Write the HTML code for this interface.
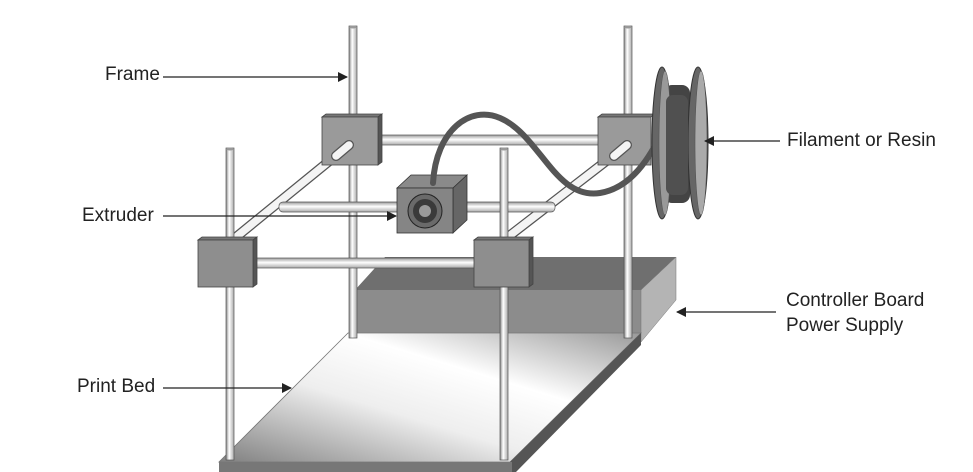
<!DOCTYPE html>
<html><head><style>
html,body{margin:0;padding:0;background:#fff;}
svg{display:block;}
text{font-family:"Liberation Sans",sans-serif;font-size:19px;fill:#222;}
</style></head><body>
<svg width="973" height="472" viewBox="0 0 973 472" xmlns="http://www.w3.org/2000/svg">
<defs>
<linearGradient id="rod" x1="0" x2="1" y1="0" y2="0">
<stop offset="0" stop-color="#888"/><stop offset="0.4" stop-color="#fff"/><stop offset="1" stop-color="#aaa"/></linearGradient>
<linearGradient id="rodh" x1="0" x2="0" y1="0" y2="1">
<stop offset="0" stop-color="#999"/><stop offset="0.45" stop-color="#fff"/><stop offset="1" stop-color="#aaa"/></linearGradient>
<linearGradient id="bed" x1="0" y1="1" x2="1" y2="0">
<stop offset="0" stop-color="#808080"/><stop offset="0.4" stop-color="#eee"/><stop offset="0.65" stop-color="#fff"/><stop offset="1" stop-color="#999"/></linearGradient>
<marker id="ah" markerWidth="10" markerHeight="10" refX="9" refY="5" orient="auto" markerUnits="userSpaceOnUse">
<path d="M0,0 L10,5 L0,10 z" fill="#222"/></marker>
</defs>

<!-- controller box -->
<polygon points="355,290 385,257 676,257 641,290" fill="#6f6f6f"/>
<rect x="355" y="290" width="286" height="52" fill="#8c8c8c"/>
<polygon points="641,290 676,257 676,300 641,342" fill="#b4b4b4" stroke="#777" stroke-width="0.5"/>

<!-- bed -->
<polygon points="348,333 641,333 510,462 219,462" fill="url(#bed)" stroke="#777" stroke-width="0.8"/>
<polygon points="510,462 641,333 641,345 516,472 510,472" fill="#555"/>
<rect x="219" y="462" width="293" height="10" fill="#777"/>

<!-- back rods -->
<rect x="349" y="26" width="8" height="312" fill="url(#rod)" stroke="#555" stroke-width="0.7"/>
<ellipse cx="353" cy="27" rx="4" ry="1.5" fill="#999"/>
<rect x="624" y="26" width="8" height="312" fill="url(#rod)" stroke="#555" stroke-width="0.7"/>
<ellipse cx="628" cy="27" rx="4" ry="1.5" fill="#999"/>

<!-- back horizontal rod -->
<rect x="376" y="135" width="224" height="10" fill="url(#rodh)" stroke="#555" stroke-width="0.7"/>

<!-- diagonal rods -->
<line x1="349" y1="145" x2="230" y2="242" stroke="#555" stroke-width="10" stroke-linecap="round"/>
<line x1="349" y1="145" x2="230" y2="242" stroke="#f4f4f4" stroke-width="7.5" stroke-linecap="round"/>
<line x1="627" y1="145" x2="504" y2="240" stroke="#555" stroke-width="10" stroke-linecap="round"/>
<line x1="627" y1="145" x2="504" y2="240" stroke="#f4f4f4" stroke-width="7.5" stroke-linecap="round"/>

<!-- extruder rail -->
<rect x="279" y="202" width="276" height="10" rx="4" fill="url(#rodh)" stroke="#555" stroke-width="0.7"/>

<!-- back blocks -->
<g stroke="#444" stroke-width="0.8">
<polygon points="322,117 326,114 382,114 378,117" fill="#777"/>
<polygon points="378,117 382,114 382,162 378,165" fill="#555"/>
<rect x="322" y="117" width="56" height="48" fill="#9a9a9a"/>
<polygon points="598,117 602,114 655,114 651,117" fill="#777"/>
<rect x="598" y="117" width="53" height="48" fill="#9a9a9a"/>
</g>
<line x1="349" y1="145" x2="336" y2="156" stroke="#555" stroke-width="10" stroke-linecap="round"/>
<line x1="349" y1="145" x2="336" y2="156" stroke="#f4f4f4" stroke-width="7.5" stroke-linecap="round"/>
<line x1="627" y1="145" x2="614" y2="156" stroke="#555" stroke-width="10" stroke-linecap="round"/>
<line x1="627" y1="145" x2="614" y2="156" stroke="#f4f4f4" stroke-width="7.5" stroke-linecap="round"/>

<!-- extruder -->
<g stroke="#333" stroke-width="0.8">
<polygon points="397,188 411,175 467,175 453,188" fill="#8a8a8a"/>
<polygon points="453,188 467,175 467,220 453,233" fill="#666"/>
<rect x="397" y="188" width="56" height="45" fill="#858585"/>
</g>
<circle cx="425" cy="211" r="17" fill="#6a6a6a" stroke="#222"/>
<circle cx="425" cy="211" r="12" fill="#3a3a3a"/>
<circle cx="425" cy="211" r="6" fill="#9a9a9a"/>

<!-- filament -->
<path d="M433,183 C436,130 470,105 500,118 C540,135 555,200 600,193 C630,188 650,160 665,125" fill="none" stroke="#555" stroke-width="6" stroke-linecap="round"/>

<!-- spool -->
<ellipse cx="662" cy="143" rx="10" ry="76" fill="#666" stroke="#333"/>
<rect x="664" y="85" width="26" height="118" rx="8" fill="#444"/>
<ellipse cx="698" cy="143" rx="10" ry="76" fill="#666" stroke="#333"/>
<ellipse cx="701" cy="143" rx="6" ry="72" fill="#aaa" stroke="#555" stroke-width="0.6"/>
<ellipse cx="665" cy="143" rx="6" ry="72" fill="#999" stroke="#555" stroke-width="0.6"/>
<rect x="666" y="95" width="22" height="100" rx="7" fill="#505050"/>

<!-- front rods -->
<rect x="226" y="148" width="8" height="312" fill="url(#rod)" stroke="#555" stroke-width="0.7"/>
<ellipse cx="230" cy="149" rx="4" ry="1.5" fill="#999"/>
<rect x="500" y="148" width="8" height="312" fill="url(#rod)" stroke="#555" stroke-width="0.7"/>
<ellipse cx="504" cy="149" rx="4" ry="1.5" fill="#999"/>

<!-- front horizontal rod -->
<rect x="251" y="258" width="225" height="10" fill="url(#rodh)" stroke="#555" stroke-width="0.7"/>

<!-- front blocks -->
<g stroke="#444" stroke-width="0.8">
<polygon points="198,240 202,237 257,237 253,240" fill="#777"/>
<polygon points="253,240 257,237 257,284 253,287" fill="#555"/>
<rect x="198" y="240" width="55" height="47" fill="#8e8e8e"/>
<polygon points="474,240 478,237 533,237 529,240" fill="#777"/>
<polygon points="529,240 533,237 533,284 529,287" fill="#555"/>
<rect x="474" y="240" width="55" height="47" fill="#8e8e8e"/>
</g>

<!-- labels -->
<g stroke="#222" stroke-width="1.2" fill="none">
<line x1="163" y1="77" x2="347" y2="77" marker-end="url(#ah)"/>
<line x1="163" y1="216" x2="396" y2="216" marker-end="url(#ah)"/>
<line x1="163" y1="388" x2="291" y2="388" marker-end="url(#ah)"/>
<line x1="780" y1="141" x2="705" y2="141" marker-end="url(#ah)"/>
<line x1="776" y1="312" x2="677" y2="312" marker-end="url(#ah)"/>
</g>
<text x="105" y="80">Frame</text>
<text x="82" y="221">Extruder</text>
<text x="77" y="392">Print Bed</text>
<text x="787" y="146">Filament or Resin</text>
<text x="786" y="306">Controller Board</text>
<text x="786" y="331">Power Supply</text>
</svg>
</body></html>
